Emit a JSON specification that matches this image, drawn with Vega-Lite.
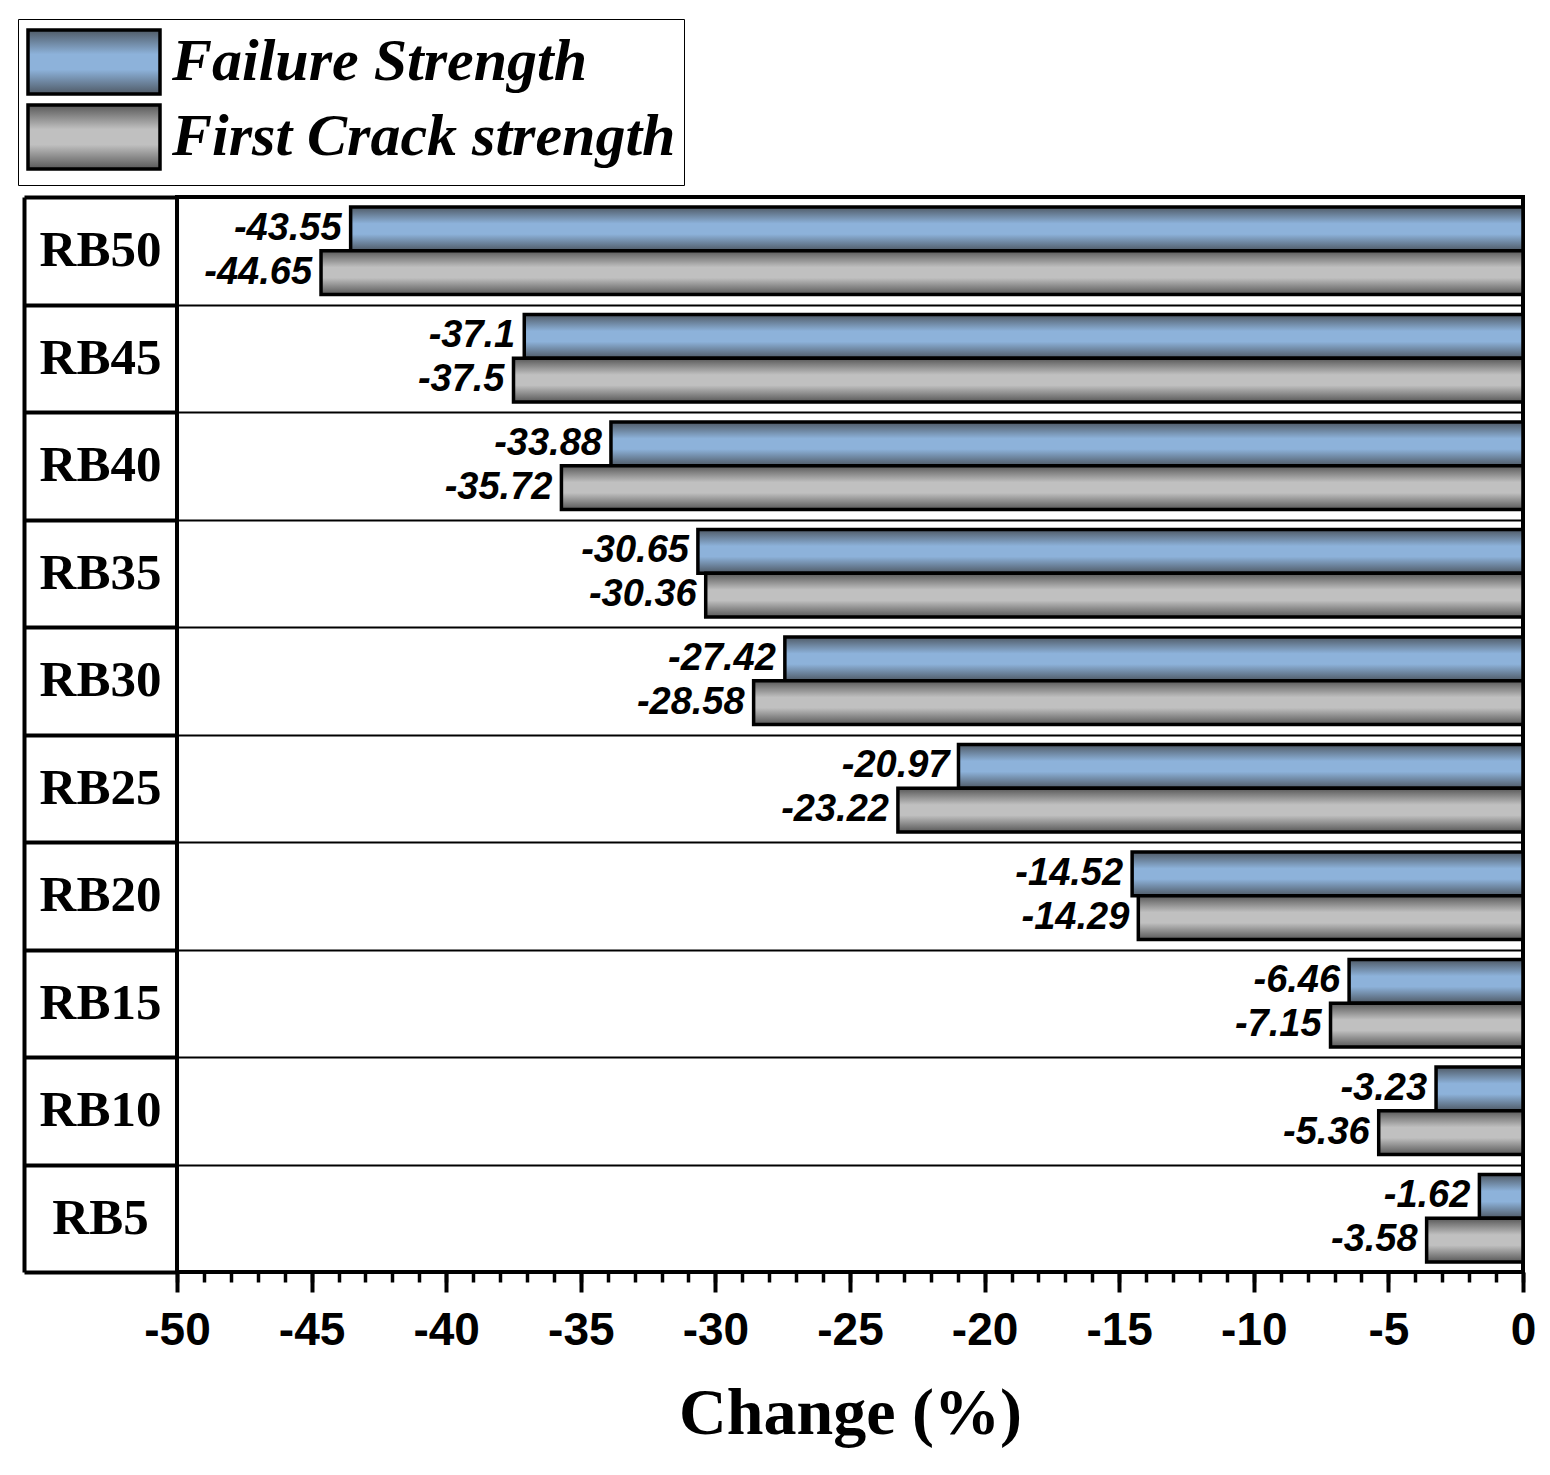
{
  "$schema": "https://vega.github.io/schema/vega-lite/v6.json",
  "description": "Change (%) in failure and first crack strength by RB mix",
  "width": 1346,
  "height": 1075,
  "autosize": "none",
  "padding": {"left": 177, "top": 197, "right": 27, "bottom": 203},
  "config": {
    "view": {"stroke": "black", "strokeWidth": 4},
    "axis": {"labelColor": "black", "titleColor": "black", "tickColor": "black", "domainColor": "black"}
  },
  "data": {
    "values": [
      {"mix": "RB50", "series": "Failure Strength", "value": -43.55},
      {"mix": "RB50", "series": "First Crack strength", "value": -44.65},
      {"mix": "RB45", "series": "Failure Strength", "value": -37.1},
      {"mix": "RB45", "series": "First Crack strength", "value": -37.5},
      {"mix": "RB40", "series": "Failure Strength", "value": -33.88},
      {"mix": "RB40", "series": "First Crack strength", "value": -35.72},
      {"mix": "RB35", "series": "Failure Strength", "value": -30.65},
      {"mix": "RB35", "series": "First Crack strength", "value": -30.36},
      {"mix": "RB30", "series": "Failure Strength", "value": -27.42},
      {"mix": "RB30", "series": "First Crack strength", "value": -28.58},
      {"mix": "RB25", "series": "Failure Strength", "value": -20.97},
      {"mix": "RB25", "series": "First Crack strength", "value": -23.22},
      {"mix": "RB20", "series": "Failure Strength", "value": -14.52},
      {"mix": "RB20", "series": "First Crack strength", "value": -14.29},
      {"mix": "RB15", "series": "Failure Strength", "value": -6.46},
      {"mix": "RB15", "series": "First Crack strength", "value": -7.15},
      {"mix": "RB10", "series": "Failure Strength", "value": -3.23},
      {"mix": "RB10", "series": "First Crack strength", "value": -5.36},
      {"mix": "RB5", "series": "Failure Strength", "value": -1.62},
      {"mix": "RB5", "series": "First Crack strength", "value": -3.58}
    ]
  },
  "layer": [
    {
      "mark": {"type": "point", "opacity": 0},
      "encoding": {
        "x": {
          "field": "value", "type": "quantitative",
          "scale": {"domain": [-50, 0], "nice": false, "zero": false},
          "axis": {
            "orient": "bottom", "title": null, "labels": false, "domain": false, "grid": false,
            "values": [-50, -49, -48, -47, -46, -45, -44, -43, -42, -41, -40, -39, -38, -37, -36, -35, -34, -33, -32, -31, -30, -29, -28, -27, -26, -25, -24, -23, -22, -21, -20, -19, -18, -17, -16, -15, -14, -13, -12, -11, -10, -9, -8, -7, -6, -5, -4, -3, -2, -1, 0],
            "tickSize": 10, "tickWidth": 3.5
          }
        },
        "y": {
          "field": "mix", "type": "nominal",
          "sort": ["RB50", "RB45", "RB40", "RB35", "RB30", "RB25", "RB20", "RB15", "RB10", "RB5"],
          "scale": {"paddingInner": 0, "paddingOuter": 0},
          "axis": {"orient": "left", "offset": 153, "title": null, "labels": false, "ticks": false, "grid": false, "domain": true, "domainWidth": 4}
        },
        "shape": {
          "field": "series", "type": "nominal",
          "sort": ["Failure Strength", "First Crack strength"],
          "scale": {"range": ["M-1,-0.97L3,-0.97L3,0.97L-1,0.97Z", "M-1,-0.97L3,-0.97L3,0.97L-1,0.97Z"]},
          "legend": {
            "title": null,
            "orient": "none",
            "legendX": -159,
            "legendY": -178,
            "padding": 8,
            "strokeColor": "black",
            "symbolSize": 4356,
            "symbolStrokeColor": "black",
            "symbolStrokeWidth": 3.5,
            "symbolOpacity": 1,
            "labelFont": "Liberation Serif",
            "labelFontStyle": "italic",
            "labelFontWeight": "bold",
            "labelFontSize": 60,
            "labelColor": "black",
            "labelOffset": 76,
            "labelLimit": 0,
            "rowPadding": -9,
            "encoding": {
              "symbols": {
                "fill": {
                  "condition": {"test": "datum.label === 'Failure Strength'", "value": {"gradient": "linear", "x1": 0, "y1": 0, "x2": 0, "y2": 1, "stops": [{"offset": 0, "color": "#4f5a66"}, {"offset": 0.38, "color": "#8db2da"}, {"offset": 0.62, "color": "#8db2da"}, {"offset": 1, "color": "#4f5a66"}]}},
                  "value": {"gradient": "linear", "x1": 0, "y1": 0, "x2": 0, "y2": 1, "stops": [{"offset": 0, "color": "#585858"}, {"offset": 0.38, "color": "#c0c0c0"}, {"offset": 0.62, "color": "#c0c0c0"}, {"offset": 1, "color": "#585858"}]}
                },
                "stroke": {"value": "black"},
                "strokeWidth": {"value": 3.5},
                "opacity": {"value": 1}
              }
            }
          }
        }
      }
    },
    {
      "transform": [{"filter": "datum.series === 'Failure Strength'"}],
      "mark": {
        "type": "bar",
        "stroke": "black",
        "strokeWidth": 3.5,
        "fill": {"gradient": "linear", "x1": 0, "y1": 0, "x2": 0, "y2": 1, "stops": [{"offset": 0, "color": "#4f5a66"}, {"offset": 0.38, "color": "#8db2da"}, {"offset": 0.62, "color": "#8db2da"}, {"offset": 1, "color": "#4f5a66"}]}
      },
      "encoding": {
        "x": {
          "field": "value", "type": "quantitative",
          "axis": {
            "orient": "bottom",
            "values": [-50, -45, -40, -35, -30, -25, -20, -15, -10, -5, 0],
            "labelExpr": "'' + datum.value",
            "domain": false, "grid": false,
            "tickSize": 20, "tickWidth": 4,
            "labelFont": "Liberation Sans", "labelFontWeight": "bold", "labelFontSize": 46,
            "labelPadding": 16, "labelOverlap": false, "labelFlush": false,
            "title": "Change (%)",
            "titleFont": "Liberation Serif", "titleFontWeight": "bold", "titleFontSize": 66,
            "titlePadding": 28
          }
        },
        "y": {
          "field": "mix", "type": "nominal",
          "sort": ["RB50", "RB45", "RB40", "RB35", "RB30", "RB25", "RB20", "RB15", "RB10", "RB5"],
          "axis": {
            "orient": "left", "title": null,
            "tickBand": "extent", "tickSize": 153, "tickWidth": 4,
            "grid": true, "gridColor": "black", "gridWidth": 2, "gridOpacity": 1,
            "domain": false,
            "labelFont": "Liberation Serif", "labelFontWeight": "bold", "labelFontSize": 51,
            "labelAlign": "center", "labelBaseline": "middle", "labelPadding": -76,
            "labelOverlap": false
          }
        },
        "yOffset": {
          "field": "series", "type": "nominal",
          "sort": ["Failure Strength", "First Crack strength"],
          "scale": {"paddingInner": 0, "paddingOuter": 0.23}
        }
      }
    },
    {
      "transform": [{"filter": "datum.series === 'First Crack strength'"}],
      "mark": {
        "type": "bar",
        "stroke": "black",
        "strokeWidth": 3.5,
        "fill": {"gradient": "linear", "x1": 0, "y1": 0, "x2": 0, "y2": 1, "stops": [{"offset": 0, "color": "#585858"}, {"offset": 0.38, "color": "#c0c0c0"}, {"offset": 0.62, "color": "#c0c0c0"}, {"offset": 1, "color": "#585858"}]}
      },
      "encoding": {
        "x": {"field": "value", "type": "quantitative", "axis": null},
        "y": {"field": "mix", "type": "nominal", "sort": ["RB50", "RB45", "RB40", "RB35", "RB30", "RB25", "RB20", "RB15", "RB10", "RB5"], "axis": null},
        "yOffset": {"field": "series", "type": "nominal", "sort": ["Failure Strength", "First Crack strength"]}
      }
    },
    {
      "mark": {
        "type": "text",
        "align": "right",
        "baseline": "middle",
        "dx": -9,
        "font": "Liberation Sans",
        "fontStyle": "italic",
        "fontWeight": "bold",
        "fontSize": 38,
        "color": "black"
      },
      "encoding": {
        "x": {"field": "value", "type": "quantitative", "axis": null},
        "y": {"field": "mix", "type": "nominal", "sort": ["RB50", "RB45", "RB40", "RB35", "RB30", "RB25", "RB20", "RB15", "RB10", "RB5"], "axis": null},
        "yOffset": {"field": "series", "type": "nominal", "sort": ["Failure Strength", "First Crack strength"]},
        "text": {"field": "value", "type": "nominal"}
      }
    }
  ],
  "resolve": {"axis": {"x": "independent", "y": "independent"}}
}
